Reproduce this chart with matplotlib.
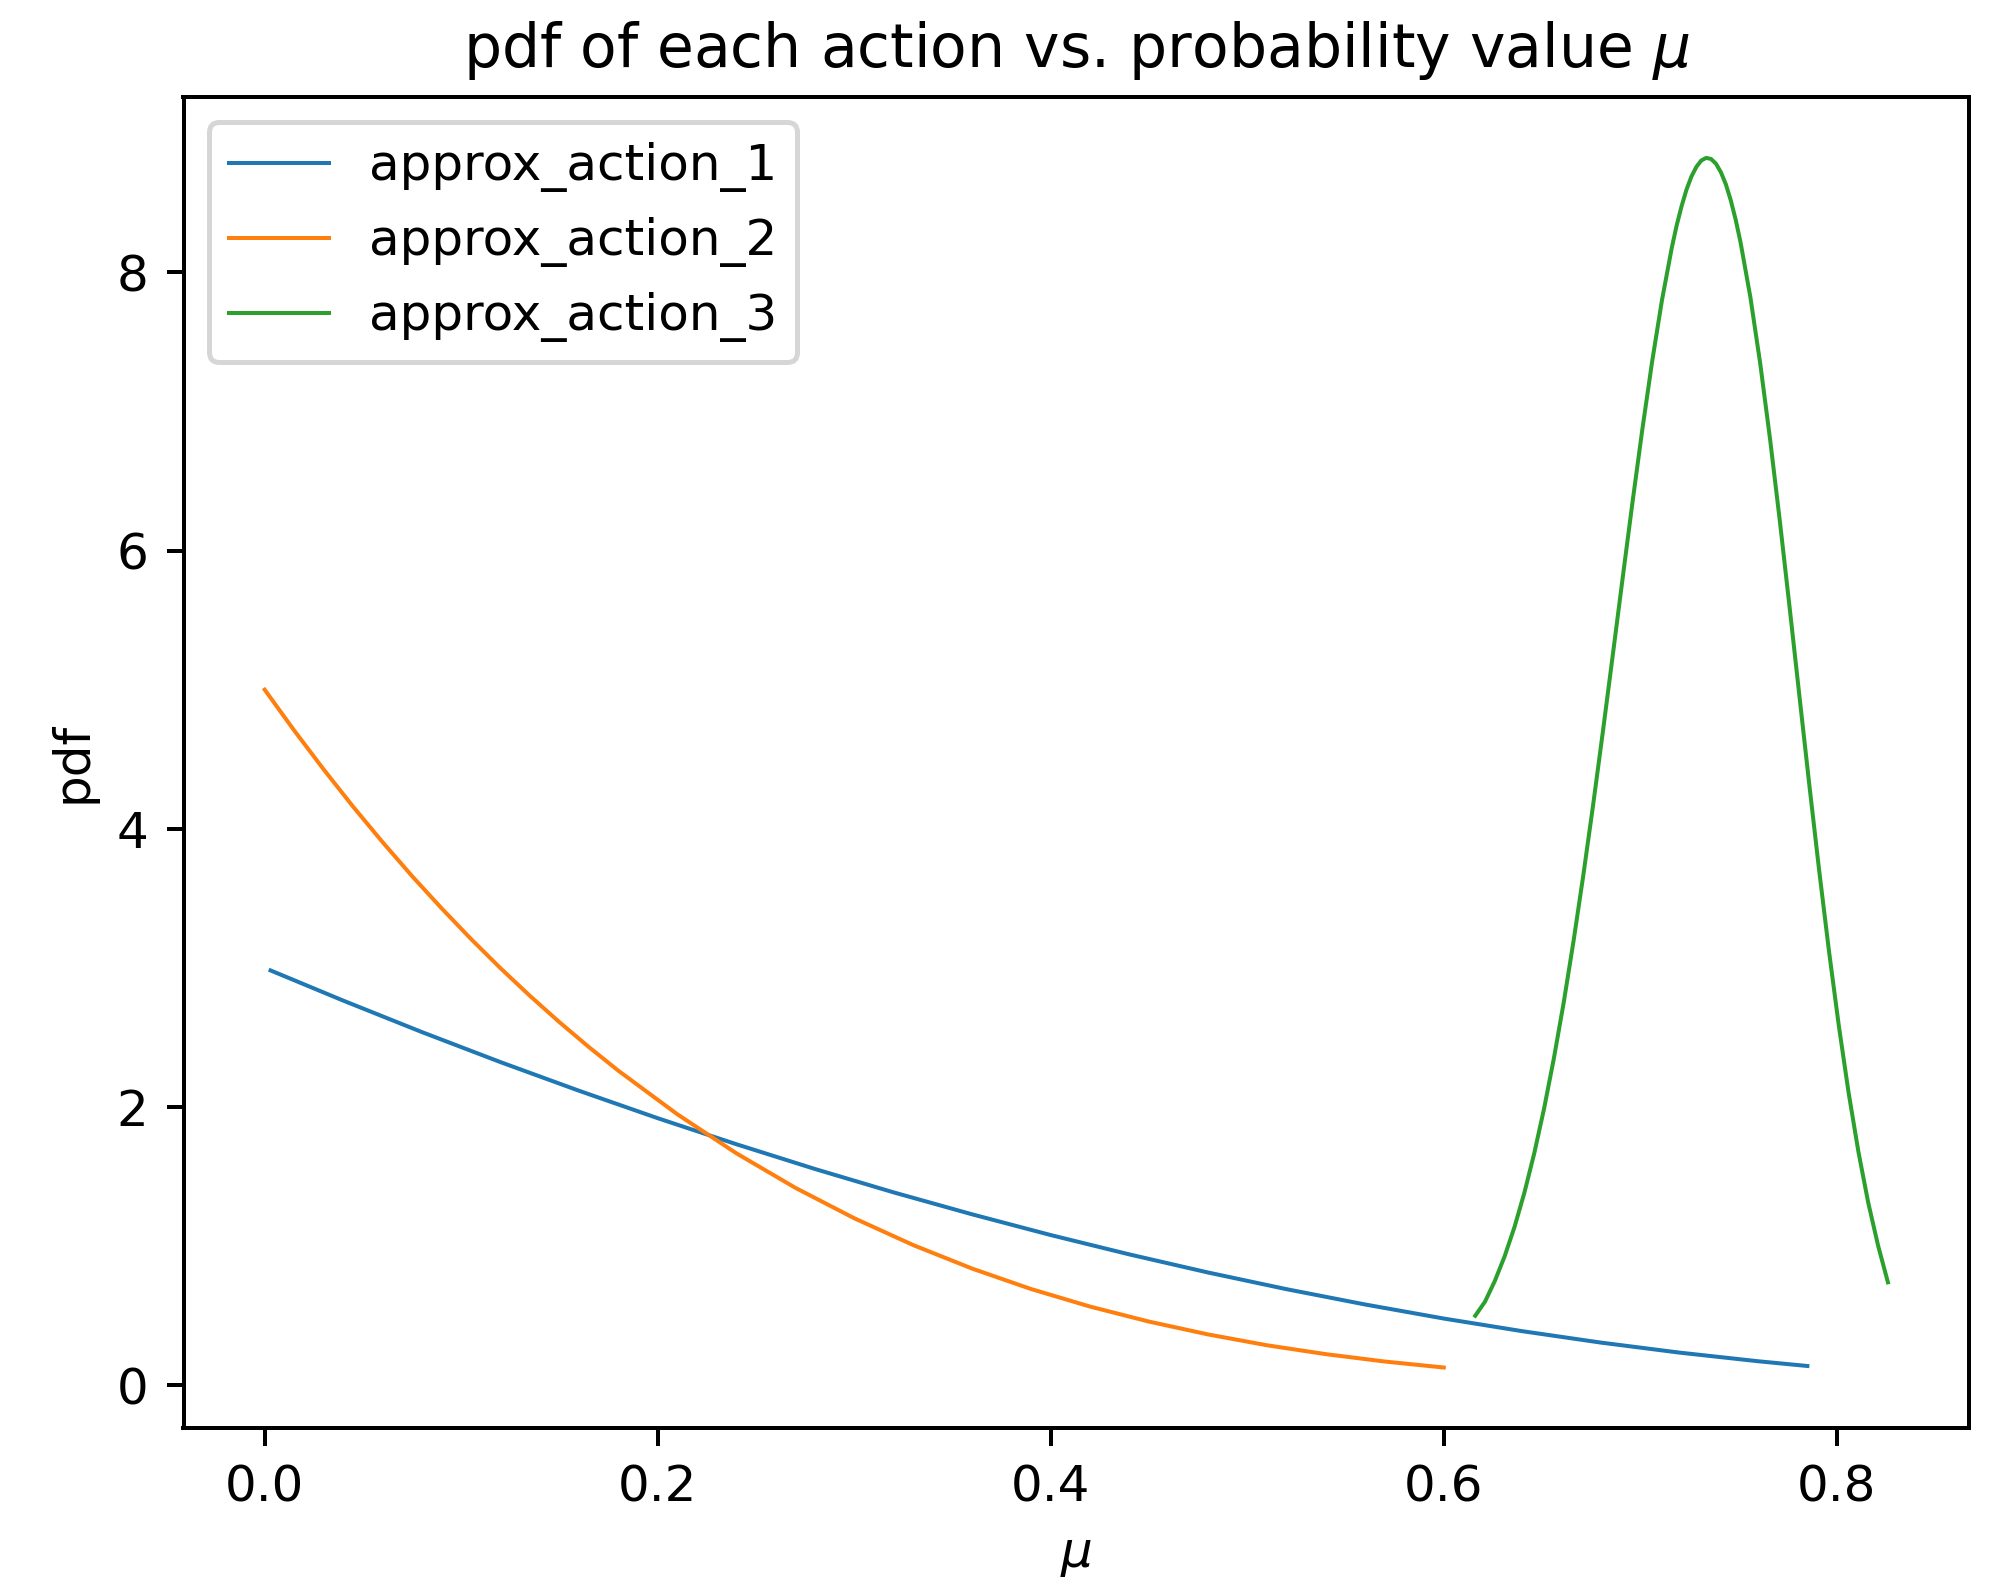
import matplotlib
matplotlib.use("Agg")
import matplotlib.pyplot as plt

# ---- data ----
action1_mu = [0.003, 0.04, 0.08, 0.12, 0.16, 0.20, 0.24, 0.28, 0.32, 0.36, 0.40,
              0.44, 0.48, 0.52, 0.56, 0.60, 0.64, 0.68, 0.72, 0.76, 0.785]
action1_pdf = [2.982, 2.765, 2.539, 2.323, 2.117, 1.920, 1.733, 1.555, 1.387, 1.229, 1.080,
               0.941, 0.811, 0.691, 0.581, 0.480, 0.389, 0.307, 0.235, 0.173, 0.139]

action2_mu = [0.00, 0.015, 0.03, 0.045, 0.06, 0.075, 0.09, 0.105, 0.12, 0.135, 0.15,
              0.165, 0.18, 0.21, 0.24, 0.27, 0.30,
              0.33, 0.36, 0.39, 0.42, 0.45, 0.48, 0.51, 0.54, 0.57, 0.60]
action2_pdf = [5.000, 4.707, 4.427, 4.159, 3.904, 3.660, 3.429, 3.208, 2.998, 2.799, 2.610,
               2.431, 2.261, 1.948, 1.668, 1.420, 1.201,
               1.008, 0.839, 0.692, 0.566, 0.458, 0.366, 0.288, 0.224, 0.171, 0.128]

action3_mu = [0.616, 0.621, 0.626, 0.631, 0.636, 0.641, 0.646, 0.651, 0.656, 0.661,
              0.666, 0.671, 0.676, 0.681, 0.686, 0.691, 0.696, 0.701, 0.706, 0.711,
              0.716, 0.7185, 0.721, 0.7235, 0.726, 0.7285, 0.731, 0.7335, 0.736,
              0.7385, 0.741, 0.7435, 0.746, 0.7485, 0.751, 0.756, 0.761,
              0.766, 0.771, 0.776, 0.781, 0.786, 0.791, 0.796, 0.801, 0.806, 0.811,
              0.816, 0.821, 0.826]
action3_pdf = [0.500, 0.602, 0.751, 0.929, 1.139, 1.384, 1.666, 1.987, 2.349, 2.750,
               3.191, 3.667, 4.173, 4.704, 5.250, 5.801, 6.345, 6.868, 7.357, 7.798,
               8.175, 8.337, 8.475, 8.594, 8.688, 8.757, 8.803, 8.822, 8.814,
               8.780, 8.719, 8.633, 8.518, 8.379, 8.215, 7.821, 7.345,
               6.803, 6.211, 5.587, 4.949, 4.315, 3.701, 3.121, 2.585, 2.102, 1.677,
               1.311, 1.004, 0.740]

series_labels = ["approx_action_1", "approx_action_2", "approx_action_3"]

# ---- figure ----
W, H, DPI = 1997, 1586, 360
fig = plt.figure(figsize=(W / DPI, H / DPI), dpi=DPI)
ax = fig.add_axes([183.5 / W, 158 / H, 1785.6 / W, 1330.6 / H])

lw = 0.8
ax.plot(action1_mu, action1_pdf, color="#1f77b4", lw=lw, label=series_labels[0])
ax.plot(action2_mu, action2_pdf, color="#ff7f0e", lw=lw, label=series_labels[1])
ax.plot(action3_mu, action3_pdf, color="#2ca02c", lw=lw, label=series_labels[2])

ax.set_title(r"pdf of each action vs. probability value $\mu$")
ax.set_xlabel(r"$\mu$")
ax.set_ylabel("pdf")
ax.legend(loc="upper left")

fig.savefig("out.png", dpi=DPI)
